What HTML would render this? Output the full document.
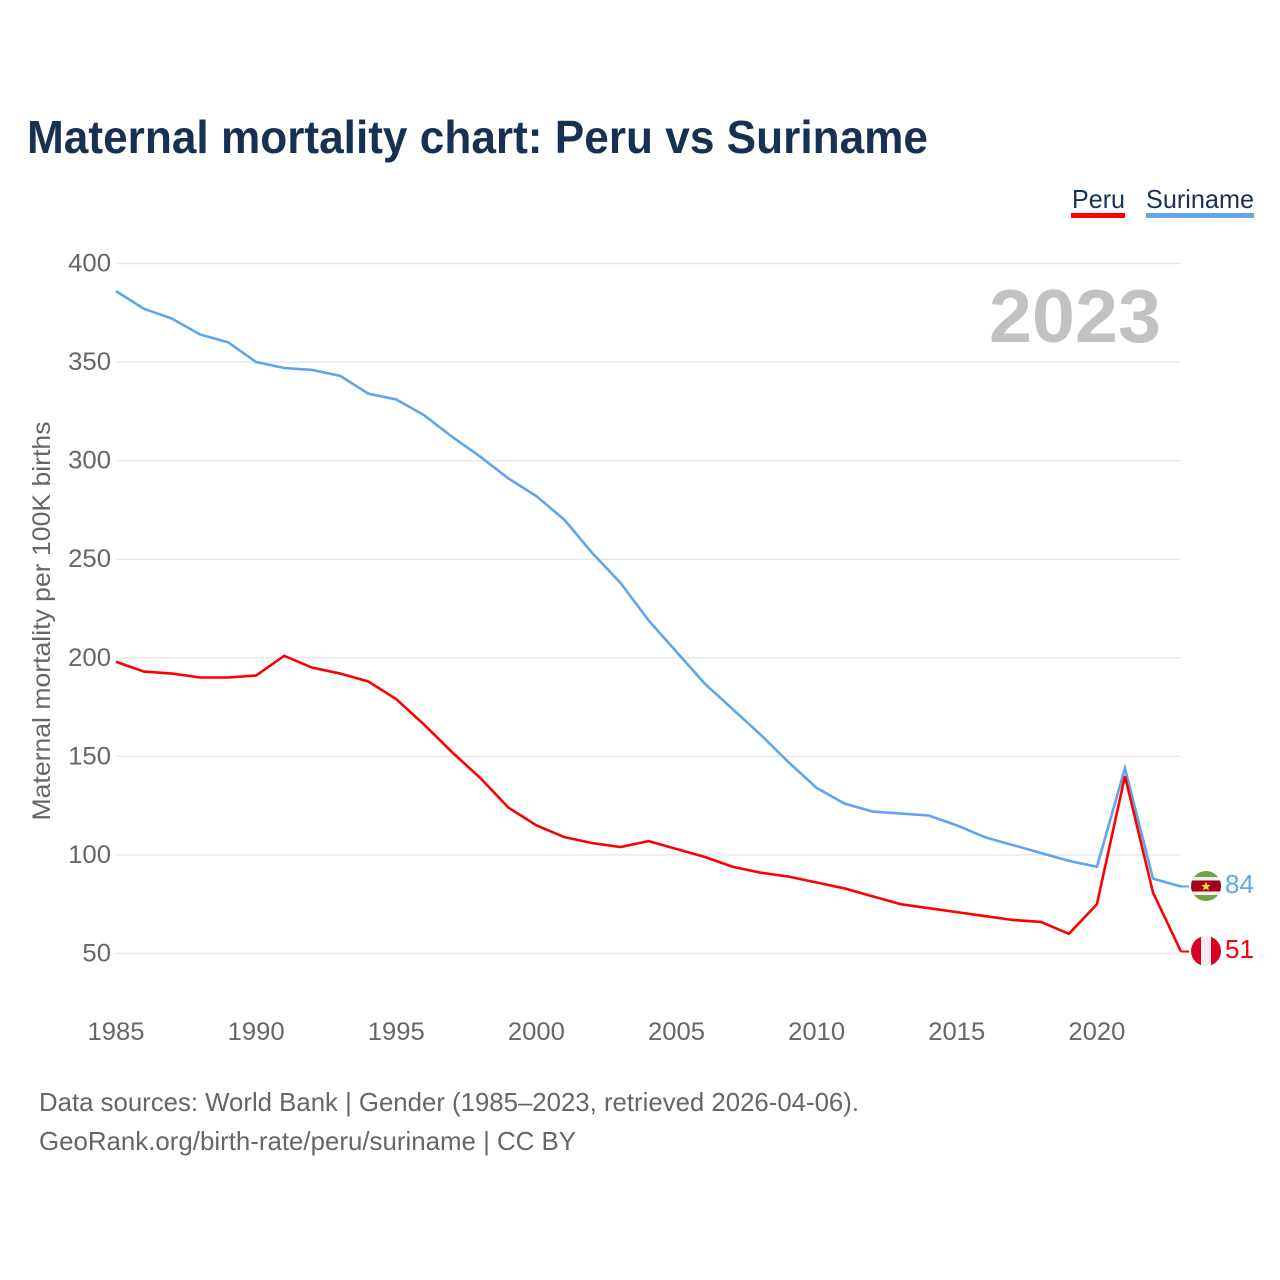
<!DOCTYPE html>
<html lang="en">
<head>
<meta charset="utf-8">
<title>Maternal mortality chart: Peru vs Suriname</title>
<style>
html,body{margin:0;padding:0;background:#fff;}
#chart{display:block;width:1280px;height:1280px;font-family:"Liberation Sans",sans-serif;}
</style>
</head>
<body>
<svg id="chart" xmlns="http://www.w3.org/2000/svg" width="1280" height="1280" viewBox="0 0 1280 1280">
  <rect width="1280" height="1280" fill="#ffffff"/>
  <text x="27" y="153" font-size="46" font-weight="700" fill="#183152" textLength="901" lengthAdjust="spacingAndGlyphs">Maternal mortality chart: Peru vs Suriname</text>

  <text x="1072" y="208" font-size="26" fill="#183152" textLength="53" lengthAdjust="spacingAndGlyphs">Peru</text>
  <rect x="1071" y="213" width="54" height="5" fill="#ff0000"/>
  <text x="1146" y="208" font-size="26" fill="#183152" textLength="108" lengthAdjust="spacingAndGlyphs">Suriname</text>
  <rect x="1146" y="213" width="108" height="5" fill="#63a6ec"/>

  <g id="grid"></g>
  <g id="yticks"></g>
  <g id="xticks"></g>

  <text x="1161" y="342" text-anchor="end" font-size="75" font-weight="700" fill="#c2c2c2" textLength="172" lengthAdjust="spacingAndGlyphs">2023</text>
  <text transform="translate(50,621) rotate(-90)" text-anchor="middle" font-size="25" fill="#666666" textLength="399" lengthAdjust="spacingAndGlyphs">Maternal mortality per 100K births</text>

  <g id="series"></g>

  <defs>
    <clipPath id="flag-clip-sr"><circle cx="1206" cy="886" r="15"/></clipPath>
    <clipPath id="flag-clip-pe"><circle cx="1206" cy="951" r="15"/></clipPath>
  </defs>
  <g clip-path="url(#flag-clip-sr)">
    <rect x="1191" y="871" width="30" height="30" fill="#6da544"/>
    <rect x="1191" y="877" width="30" height="18" fill="#eeeeee"/>
    <rect x="1191" y="880.5" width="30" height="11" fill="#a2001d"/>
    <polygon points="1206,881.5 1207.3,885 1210.8,885 1208,887.2 1209,890.5 1206,888.6 1203,890.5 1204,887.2 1201.2,885 1204.7,885" fill="#ffda44"/>
  </g>
  <g clip-path="url(#flag-clip-pe)">
    <rect x="1191" y="936" width="30" height="30" fill="#eeeeee"/>
    <rect x="1191" y="936" width="10" height="30" fill="#d80027"/>
    <rect x="1211" y="936" width="10" height="30" fill="#d80027"/>
  </g>
  <text x="1225" y="893" font-size="26" fill="#63a6ec" textLength="29" lengthAdjust="spacingAndGlyphs">84</text>
  <text x="1225" y="958" font-size="26" fill="#ff0000" textLength="29" lengthAdjust="spacingAndGlyphs">51</text>

  <text x="39" y="1111" font-size="26" fill="#666666" textLength="820" lengthAdjust="spacingAndGlyphs">Data sources: World Bank | Gender (1985–2023, retrieved 2026-04-06).</text>
  <text x="39" y="1150" font-size="26" fill="#666666" textLength="537" lengthAdjust="spacingAndGlyphs">GeoRank.org/birth-rate/peru/suriname | CC BY</text>
</svg>
<script>
const startYear = 1985;
const yTickLabels = [50, 100, 150, 200, 250, 300, 350, 400];
const xTickLabels = [1985, 1990, 1995, 2000, 2005, 2010, 2015, 2020];
const peruValues = [198,193,192,190,190,191,201,195,192,188,179,166,152,139,124,115,109,106,104,107,103,99,94,91,89,86,83,79,75,73,71,69,67,66,60,75,140,81,51];
const surinameValues = [386,377,372,364,360,350,347,346,343,334,331,323,312,302,291,282,270,253,238,219,203,187,174,161,147,134,126,122,121,120,115,109,105,101,97,94,144,88,84];

const NS = 'http://www.w3.org/2000/svg';
function xScale(year) { return 116 + (year - 1985) * (1181 - 116) / 38; }
function yScale(v) { return 953.5 + (v - 50) * (263.5 - 953.5) / 350; }

const grid = document.getElementById('grid');
const yticks = document.getElementById('yticks');
yTickLabels.forEach(function (v) {
  const line = document.createElementNS(NS, 'line');
  
  
  line.setAttribute('x1', 116);
  line.setAttribute('x2', 1181);
  line.setAttribute('y1', yScale(v));
  line.setAttribute('y2', yScale(v));
  line.setAttribute('stroke', '#e9e9e9');
  line.setAttribute('stroke-width', '1.5');
  grid.appendChild(line);
  const t = document.createElementNS(NS, 'text');
  
  
  t.setAttribute('x', 111);
  t.setAttribute('y', yScale(v) + 8);
  t.setAttribute('text-anchor', 'end');
  t.setAttribute('font-size', '25');
  t.setAttribute('fill', '#666666');
  t.setAttribute('textLength', String(v).length * 14.3);
  t.setAttribute('lengthAdjust', 'spacingAndGlyphs');
  t.textContent = v;
  yticks.appendChild(t);
});

const xticks = document.getElementById('xticks');
xTickLabels.forEach(function (yr) {
  const t = document.createElementNS(NS, 'text');
  
  
  t.setAttribute('x', xScale(yr));
  t.setAttribute('y', 1040);
  t.setAttribute('text-anchor', 'middle');
  t.setAttribute('font-size', '25');
  t.setAttribute('fill', '#666666');
  t.setAttribute('textLength', 57);
  t.setAttribute('lengthAdjust', 'spacingAndGlyphs');
  t.textContent = yr;
  xticks.appendChild(t);
});

function pathFor(values) {
  return values.map(function (v, i) {
    return (i ? 'L' : 'M') + xScale(startYear + i).toFixed(2) + ' ' + yScale(v).toFixed(2);
  }).join(' ');
}
const seriesGroup = document.getElementById('series');

const surinameLine = document.createElementNS(NS, 'path');


surinameLine.setAttribute('d', pathFor(surinameValues));
surinameLine.setAttribute('fill', 'none');
surinameLine.setAttribute('stroke', '#5fa5ee');
surinameLine.setAttribute('stroke-width', '2.6');
seriesGroup.appendChild(surinameLine);

const peruLine = document.createElementNS(NS, 'path');


peruLine.setAttribute('d', pathFor(peruValues));
peruLine.setAttribute('fill', 'none');
peruLine.setAttribute('stroke', '#ff0000');
peruLine.setAttribute('stroke-width', '2.6');
seriesGroup.appendChild(peruLine);

const surinameLead = document.createElementNS(NS, 'line');


surinameLead.setAttribute('x1', xScale(2023));
surinameLead.setAttribute('x2', xScale(2023) + 8);
surinameLead.setAttribute('y1', yScale(surinameValues[surinameValues.length - 1]));
surinameLead.setAttribute('y2', yScale(surinameValues[surinameValues.length - 1]));
surinameLead.setAttribute('stroke', '#5fa5ee');
surinameLead.setAttribute('stroke-width', '2');
seriesGroup.appendChild(surinameLead);

const peruLead = document.createElementNS(NS, 'line');


peruLead.setAttribute('x1', xScale(2023));
peruLead.setAttribute('x2', xScale(2023) + 8);
peruLead.setAttribute('y1', yScale(peruValues[peruValues.length - 1]));
peruLead.setAttribute('y2', yScale(peruValues[peruValues.length - 1]));
peruLead.setAttribute('stroke', '#ff0000');
peruLead.setAttribute('stroke-width', '2');
seriesGroup.appendChild(peruLead);
</script>
</body>
</html>
